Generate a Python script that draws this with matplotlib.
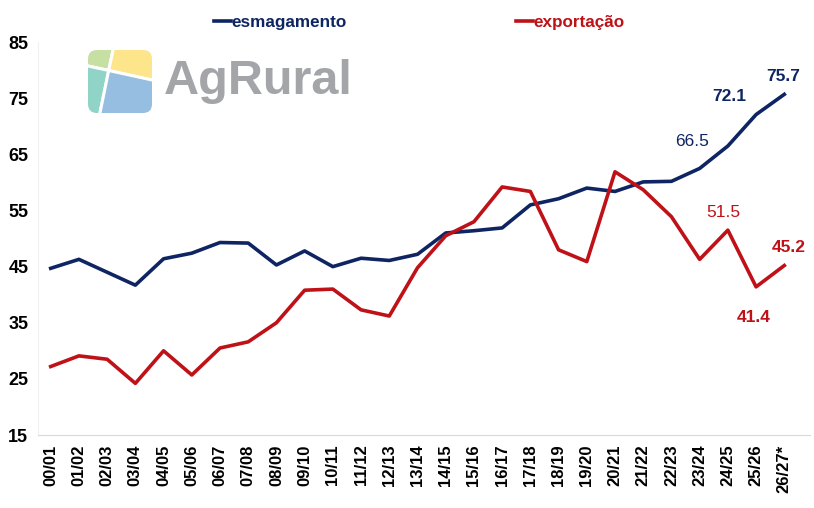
import matplotlib
matplotlib.use('Agg')
import matplotlib.pyplot as plt
from matplotlib.patches import Polygon, FancyBboxPatch

plt.rcParams['font.family'] = ['Liberation Sans', 'DejaVu Sans']

# safras
safras = ['00/01', '01/02', '02/03', '03/04', '04/05', '05/06', '06/07', '07/08',
          '08/09', '09/10', '10/11', '11/12', '12/13', '13/14', '14/15', '15/16',
          '16/17', '17/18', '18/19', '19/20', '20/21', '21/22', '22/23', '23/24',
          '24/25', '25/26', '26/27*']

esmagamento = [44.7, 46.3, 44.0, 41.7, 46.4, 47.4, 49.3, 49.2, 45.3, 47.8, 45.0, 46.5,
               46.1, 47.2, 51.0, 51.4, 51.9, 56.0, 57.1, 59.0, 58.4, 60.1, 60.2, 62.5,
               66.5, 72.1, 75.7]
exportacao = [27.2, 29.1, 28.5, 24.2, 30.0, 25.7, 30.5, 31.6, 35.0, 40.8, 41.0, 37.3,
              36.2, 44.8, 50.5, 53.0, 59.2, 58.4, 48.0, 45.9, 61.9, 58.7, 53.9, 46.3,
              51.5, 41.4, 45.2]

azul = '#0f2563'
vermelho = '#be1218'

# rotulos: (indice, deslocamento em pontos, negrito)
rot_esm = [(24, (-26, 3), False), (25, (-19, 13), True), (26, (-1, 13), True)]
rot_exp = [(24, (-3, 13), False), (25, (-2, -22), True), (26, (3, 13), True)]

fig = plt.figure(figsize=(8.14, 5.08), dpi=100)
ax = fig.add_axes([0.0467, 0.1437, 0.948, 0.7733])
ax.patch.set_alpha(0)

x = list(range(len(safras)))
ax.plot(x, esmagamento, color=azul, lw=2.6, label='esmagamento', solid_joinstyle='round')
ax.plot(x, exportacao, color=vermelho, lw=2.6, label='exportação', solid_joinstyle='round')

for i, off, bold in rot_esm:
    ax.annotate(f'{esmagamento[i]:.1f}', (i, esmagamento[i]), xytext=off,
                textcoords='offset points', ha='center', va='center', color=azul,
                fontsize=12.5, fontweight='bold' if bold else 'normal')
for i, off, bold in rot_exp:
    ax.annotate(f'{exportacao[i]:.1f}', (i, exportacao[i]), xytext=off,
                textcoords='offset points', ha='center', va='center', color=vermelho,
                fontsize=12.5, fontweight='bold' if bold else 'normal')

ax.set_xlim(-0.45, 26.9)
ax.set_ylim(15, 85)
ax.set_yticks(range(15, 86, 10))
ax.set_xticks(x)
ax.set_xticklabels(safras, rotation=90, fontsize=12, fontweight='bold')
for t in ax.get_yticklabels():
    t.set_fontweight('bold')
    t.set_fontsize(13)
ax.tick_params(length=0, pad=7)
ax.tick_params(axis='y', pad=7)
for s in ['top', 'right']:
    ax.spines[s].set_visible(False)
ax.spines['left'].set_color('#f0f0f0')
ax.spines['bottom'].set_color('#d9d9d9')

leg = fig.legend(loc='upper center', bbox_to_anchor=(0.515, 1.0), ncol=2, frameon=False,
                 handlelength=1.0, handletextpad=0.0, columnspacing=9.9,
                 prop={'weight': 'bold', 'size': 12.3})
for txt, c in zip(leg.get_texts(), [azul, vermelho]):
    txt.set_color(c)

# logo AgRural (em pixels)
lg = fig.add_axes([0, 0, 1, 1], zorder=-1)
lg.set_xlim(0, 814)
lg.set_ylim(508, 0)
lg.axis('off')
caixa = FancyBboxPatch((88, 50), 64, 63, boxstyle='round,pad=0,rounding_size=9',
                       fc='none', ec='none')
lg.add_patch(caixa)
P = (108.7, 70.5)
pecas = [
    ([(80, 40), (115.1, 40), P, (80, 64.25)], '#c6dfa3'),
    ([(115.1, 40), (160, 40), (160, 81.75), P], '#fde58b'),
    ([(80, 64.25), P, (97.5, 125), (80, 125)], '#8fd4c6'),
    ([P, (160, 81.75), (160, 125), (97.5, 125)], '#95bee1'),
]
for pts, c in pecas:
    pg = Polygon(pts, closed=True, fc=c, ec='white', lw=2.2)
    lg.add_patch(pg)
    pg.set_clip_path(caixa)
lg.text(164, 82, 'AgRural', fontsize=35, fontweight='bold', color='#a3a5a8',
        va='center', ha='left')

fig.savefig('out.png', dpi=100)
